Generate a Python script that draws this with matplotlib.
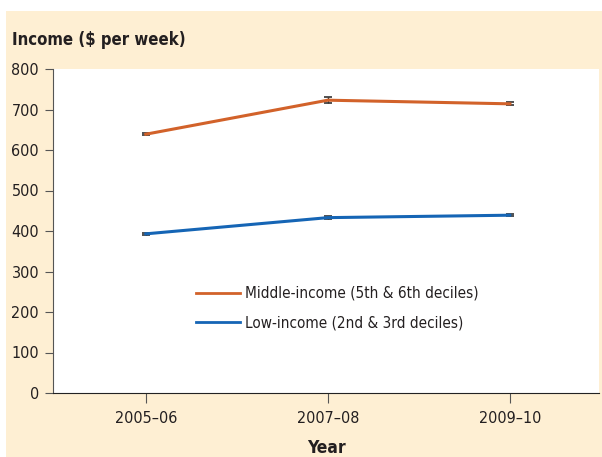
import matplotlib
matplotlib.use("Agg")
import matplotlib.pyplot as plt
from matplotlib.patches import Rectangle

years = ["2005\u201306", "2007\u201308", "2009\u201310"]
middle = [639, 723, 714]
middle_err = [3, 7, 4]
low = [393, 433, 439]
low_err = [3, 3, 3]

plt.rcParams['font.family'] = ['DejaVu Sans']
plt.rcParams['font.stretch'] = 'condensed'

fig = plt.figure(figsize=(6.02, 4.57), dpi=100)
fig.patches.append(Rectangle((6 / 602, 0), 1, 1 - 11 / 457, transform=fig.transFigure,
                             facecolor='#FEEFD3', edgecolor='none', zorder=-10))

ax = fig.add_axes([53 / 602, 64 / 457, 546 / 602, 324 / 457])
ax.set_facecolor('white')
x = range(len(years))

ax.errorbar(x, middle, yerr=middle_err, color='#D2622A', lw=2.2, ecolor='#333333',
            elinewidth=1, capsize=3, capthick=1.2, label='Middle-income (5th & 6th deciles)')
ax.errorbar(x, low, yerr=low_err, color='#1565B5', lw=2.2, ecolor='#333333',
            elinewidth=1, capsize=3, capthick=1.2, label='Low-income (2nd & 3rd deciles)')

ax.set_xlim(-0.51, 2.49)
ax.set_ylim(0, 800)
ax.set_yticks(range(0, 801, 100))
ax.set_xticks(list(x))
ax.set_xticklabels(years)

for s in ['top', 'right']:
    ax.spines[s].set_visible(False)
ax.spines['left'].set_color('#555555')
ax.spines['bottom'].set_color('#222222')
ax.tick_params(axis='y', length=6, color='#555555', labelsize=11.5, labelcolor='#231F20', pad=4)
ax.tick_params(axis='x', length=7, color='#555555', labelsize=11.5, labelcolor='#231F20', pad=6)

ax.set_xlabel('Year', fontsize=12.5, fontweight='bold', color='#231F20', labelpad=9)
fig.text(12 / 602, 1 - 40 / 457, 'Income ($ per week)', fontsize=12, fontweight='bold',
         color='#231F20', va='center', ha='left')

# legend without error bars
handles, labels = ax.get_legend_handles_labels()
handles = [h[0] for h in handles]
leg = ax.legend(handles, labels, loc='center left', bbox_to_anchor=(0.237, 0.262),
                frameon=False, fontsize=11, handlelength=2.9, handletextpad=0.3,
                labelspacing=0.95)
for t in leg.get_texts():
    t.set_color('#231F20')
for l in leg.get_lines():
    l.set_linewidth(2)

fig.savefig('out.png', dpi=100)
